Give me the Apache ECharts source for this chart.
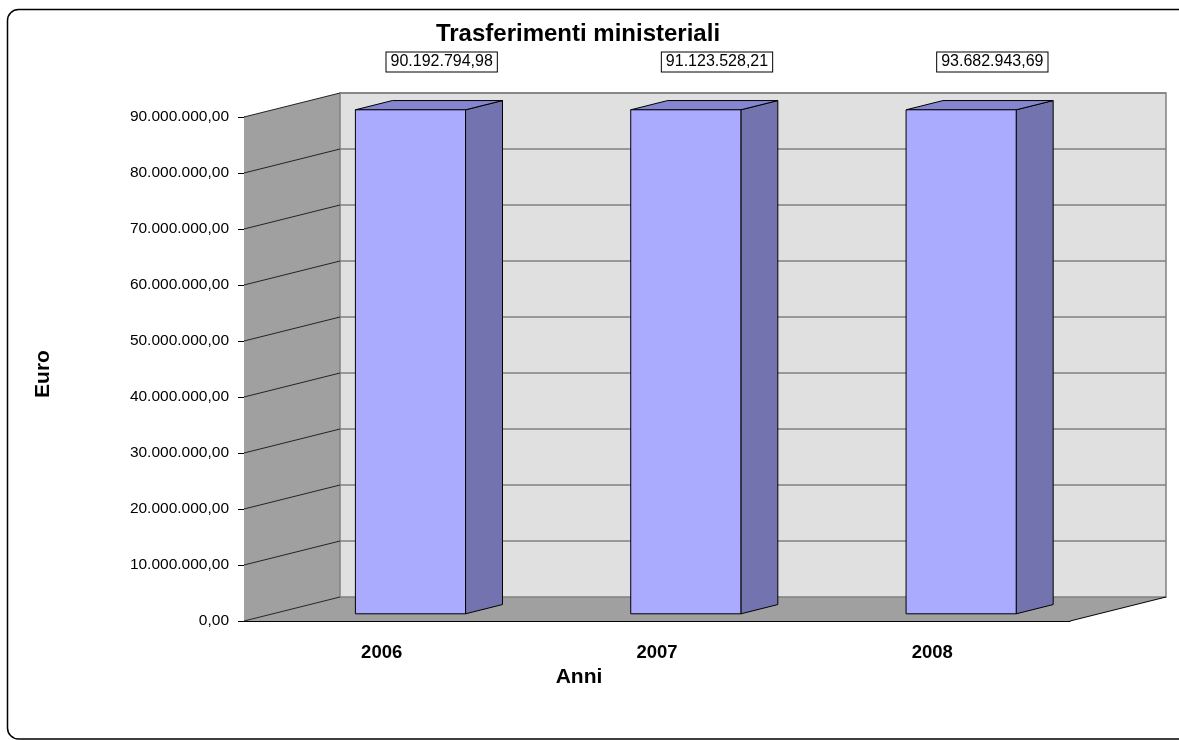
<!DOCTYPE html>
<html>
<head>
<meta charset="utf-8">
<title>Trasferimenti ministeriali</title>
<script src="https://cdn.jsdelivr.net/npm/echarts@6/dist/echarts.min.js"></script>
<style>
  html, body { margin: 0; padding: 0; background: #fff; }
  #chart { width: 1179px; height: 740px; }
</style>
</head>
<body>
<div id="chart"></div>
<script>
// data
const categories = ['2006', '2007', '2008'];
const values = [90192794.98, 91123528.21, 93682943.69];
const yMin = 0;
const yMax = 90000000;
const yStep = 10000000;

// 3D look: offset from front plane to back wall
const DX = 96, DY = -24;
const FONT = '"Liberation Sans", Arial, sans-serif';

// 90000000 -> "90.000.000,00"
const fmt = (n) => {
  const parts = Math.abs(n).toFixed(2).split('.');
  const int = parts[0].replace(/\B(?=(\d{3})+(?!\d))/g, '.');
  return (n < 0 ? '-' : '') + int + ',' + parts[1];
};

const renderWalls = (params, api) => {
  const cs = params.coordSys;
  const x0 = cs.x, y0 = cs.y, right = cs.x + cs.width, bottom = cs.y + cs.height;
  const children = [
    { type: 'polygon', shape: { points: [[x0, bottom], [x0, y0], [x0 + DX, y0 + DY], [x0 + DX, bottom + DY]] },
      style: { fill: '#a0a0a0', stroke: null } },
    { type: 'polygon', shape: { points: [[x0, bottom], [x0 + DX, bottom + DY], [right + DX, bottom + DY], [right, bottom]] },
      style: { fill: '#a0a0a0', stroke: null } },
    { type: 'rect', shape: { x: x0 + DX, y: y0 + DY, width: cs.width, height: cs.height },
      style: { fill: '#e0e0e0', stroke: '#808080', lineWidth: 1.5 } },
    { type: 'line', shape: { x1: right, y1: bottom, x2: right + DX, y2: bottom + DY },
      style: { stroke: '#000', lineWidth: 1 } }
  ];
  for (let v = yMin; v <= yMax; v += yStep) {
    const y = api.coord([0, v])[1];
    children.push({ type: 'line', shape: { x1: x0, y1: y, x2: x0 + DX, y2: y + DY },
      style: { stroke: '#222', lineWidth: 1 } });
    if (v > yMin) {
      children.push({ type: 'line', shape: { x1: x0 + DX, y1: y + DY, x2: right + DX, y2: y + DY },
        style: { stroke: '#808080', lineWidth: 1.5 } });
    }
  }
  return { type: 'group', children };
};

const renderBar = (params, api) => {
  const idx = api.value(0);
  const raw = api.value(1);
  const val = Math.min(raw, yMax);
  const base = api.coord([idx, yMin]);
  const top = api.coord([idx, val]);
  const bw = api.size([1, 0])[0] * 0.4;
  const fdx = DX * 0.3, fdy = DY * 0.3;
  const ddx = DX * 0.385, ddy = DY * 0.385;
  const fx = base[0] - bw / 2 + fdx;
  const ty = top[1] + fdy, by = base[1] + fdy;
  const edge = { stroke: '#000', lineWidth: 1 };
  return {
    type: 'group',
    children: [
      { type: 'polygon', shape: { points: [[fx + bw, ty], [fx + bw + ddx, ty + ddy], [fx + bw + ddx, by + ddy], [fx + bw, by]] },
        style: Object.assign({ fill: '#7373b0' }, edge) },
      { type: 'polygon', shape: { points: [[fx, ty], [fx + ddx, ty + ddy], [fx + bw + ddx, ty + ddy], [fx + bw, ty]] },
        style: Object.assign({ fill: '#8585d0' }, edge) },
      { type: 'rect', shape: { x: fx, y: ty, width: bw, height: by - ty },
        style: Object.assign({ fill: '#aaaaff' }, edge) },
      { type: 'text', x: base[0] + 60, y: top[1] - 55,
        style: { text: fmt(raw), fill: '#000', font: '16px ' + FONT, align: 'center', verticalAlign: 'middle',
          backgroundColor: '#fff', borderColor: '#000', borderWidth: 1, padding: [2, 4, 1, 4] } }
    ]
  };
};

const chart = echarts.init(document.getElementById('chart'));
chart.setOption({
  animation: false,
  backgroundColor: '#fff',
  title: {
    text: 'Trasferimenti ministeriali',
    left: 578,
    textAlign: 'center',
    top: 22,
    padding: 0,
    textStyle: { fontFamily: FONT, fontSize: 24, fontWeight: 'bold', color: '#000' }
  },
  graphic: [{
    type: 'rect', z: -10,
    shape: { x: 7.5, y: 9.5, width: 1190, height: 729.5, r: 11 },
    style: { fill: 'none', stroke: '#000', lineWidth: 1.5 }
  }],
  grid: { left: 244, right: 109, top: 117, bottom: 119 },
  xAxis: {
    type: 'category',
    data: categories,
    name: 'Anni',
    nameLocation: 'middle',
    nameGap: 43,
    nameTextStyle: { fontFamily: FONT, fontSize: 21, fontWeight: 'bold', color: '#000', padding: [0, 156, 0, 0] },
    axisLine: { lineStyle: { color: '#000', width: 1 } },
    axisTick: { length: 5, lineStyle: { color: '#000' } },
    axisLabel: { margin: 22, fontFamily: FONT, fontSize: 18.5, fontWeight: 'bold', color: '#000' },
    splitLine: { show: false }
  },
  yAxis: {
    type: 'value',
    min: yMin,
    max: yMax,
    interval: yStep,
    name: 'Euro',
    nameLocation: 'middle',
    nameGap: 190,
    nameTextStyle: { fontFamily: FONT, fontSize: 21, fontWeight: 'bold', color: '#000', padding: [0, 10, 0, 0] },
    axisLine: { show: true, lineStyle: { color: '#000', width: 1 } },
    axisTick: { show: true, length: 6, lineStyle: { color: '#000' } },
    axisLabel: { margin: 15, fontFamily: FONT, fontSize: 15.5, color: '#000', formatter: fmt },
    splitLine: { show: false }
  },
  series: [
    {
      type: 'custom',
      name: 'walls',
      z: 1,
      silent: true,
      renderItem: renderWalls,
      data: [[0, 0]]
    },
    {
      type: 'custom',
      name: 'Trasferimenti',
      z: 2,
      silent: true,
      renderItem: renderBar,
      encode: { x: 0, y: 1 },
      data: categories.map((c, i) => [i, values[i]])
    }
  ]
});
</script>
</body>
</html>
